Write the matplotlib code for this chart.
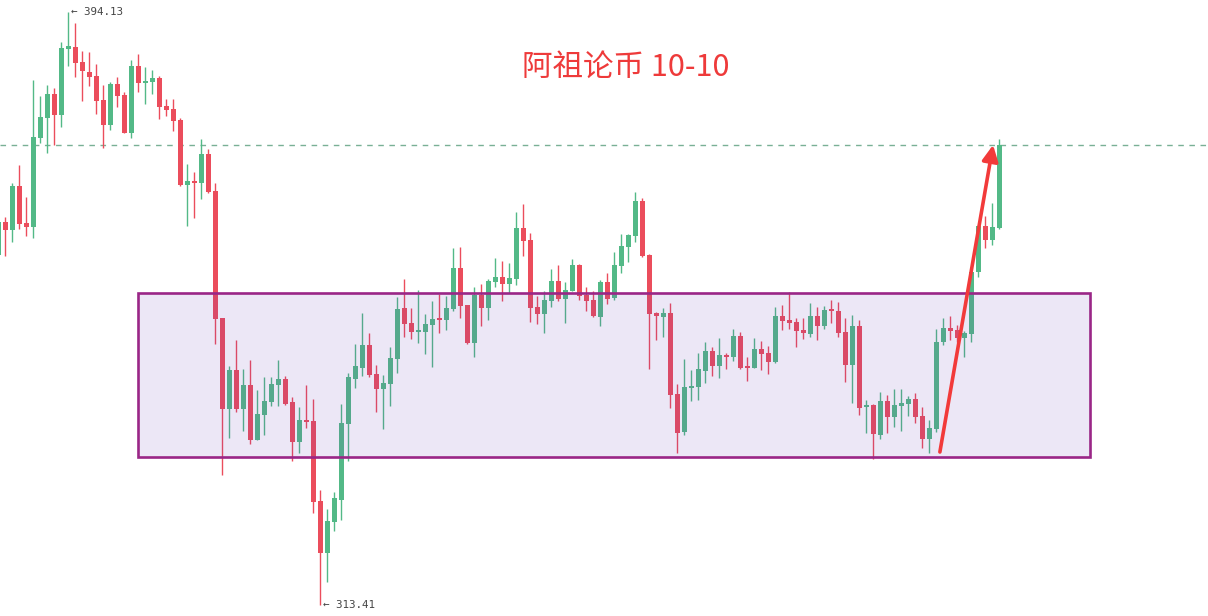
import numpy as np
import matplotlib
matplotlib.use("Agg")
import matplotlib.pyplot as plt
from matplotlib.patches import Rectangle, FancyArrowPatch

# ---- data (price values) ----
idx = list(range(-1, 143))
opens = [361.05, 365.55, 364.46, 370.45, 365.41, 364.86, 376.98, 379.70, 382.97, 380.11,
         389.09, 389.36, 387.32, 385.96, 385.42, 382.15, 378.75, 384.33, 382.83, 377.66,
         386.78, 384.46, 384.60, 385.14, 381.33, 380.92, 379.43, 370.58, 371.13, 370.85,
         374.80, 369.77, 352.48, 340.10, 345.40, 340.10, 343.36, 335.88, 339.28, 341.05,
         343.36, 344.18, 341.05, 335.60, 338.60, 338.46, 327.57, 320.50, 324.72, 327.71,
         338.05, 344.18, 345.67, 348.81, 344.86, 342.82, 343.50, 346.90, 353.84, 351.80,
         350.57, 350.57, 351.53, 352.48, 352.21, 353.71, 359.29, 354.25, 349.08, 355.61,
         353.84, 357.38, 358.06, 357.11, 357.79, 364.73, 363.10, 353.98, 353.02, 354.79,
         357.52, 355.07, 356.15, 359.69, 355.61, 354.93, 352.62, 357.38, 355.20, 359.56,
         362.14, 363.64, 368.40, 361.05, 353.16, 352.62, 353.16, 342.14, 336.97, 342.95,
         343.09, 345.27, 347.99, 345.95, 347.44, 347.17, 350.03, 345.95, 345.67, 348.26,
         347.72, 346.49, 352.75, 352.21, 351.94, 350.85, 350.30, 352.75, 351.39, 353.71,
         353.43, 350.57, 346.08, 351.39, 340.37, 340.64, 336.56, 341.18, 339.01, 340.50,
         340.78, 341.46, 339.14, 336.01, 337.37, 349.21, 351.12, 350.85, 349.76, 350.30,
         358.74, 365.00, 363.10, 364.73]
highs = [365.82, 366.23, 370.85, 373.30, 368.95, 384.87, 382.69, 384.19, 383.78, 390.04,
         394.13, 392.63, 388.82, 388.68, 387.05, 384.19, 384.60, 385.28, 383.24, 387.59,
         388.41, 386.64, 386.23, 385.42, 382.29, 382.29, 379.70, 373.44, 372.35, 376.84,
         375.48, 370.85, 352.48, 345.95, 349.49, 345.54, 346.76, 342.68, 344.45, 344.45,
         346.76, 344.59, 341.73, 340.37, 343.36, 341.46, 329.07, 326.49, 328.80, 340.78,
         344.99, 348.94, 353.16, 350.44, 346.08, 344.72, 348.53, 355.34, 357.79, 353.84,
         356.29, 353.02, 354.79, 355.75, 355.47, 362.01, 362.14, 354.25, 356.70, 357.11,
         357.79, 360.65, 360.24, 359.97, 366.91, 368.00, 364.05, 355.47, 356.15, 359.15,
         359.69, 357.38, 360.51, 359.83, 356.70, 356.15, 357.65, 358.60, 361.46, 363.91,
         363.91, 369.63, 368.81, 361.19, 353.30, 353.84, 354.52, 343.50, 346.90, 345.40,
         347.72, 349.21, 348.53, 349.76, 347.72, 350.98, 350.57, 347.17, 349.76, 349.35,
         348.67, 353.98, 354.25, 356.02, 352.48, 352.48, 354.52, 353.98, 354.11, 354.93,
         354.66, 352.48, 352.89, 352.21, 341.32, 340.78, 342.41, 342.00, 342.82, 342.82,
         341.86, 342.27, 340.37, 338.60, 350.98, 352.48, 352.75, 351.53, 350.71, 358.88,
         365.14, 366.36, 368.13, 376.84]
lows = [359.29, 360.92, 362.82, 364.59, 363.64, 363.37, 376.30, 374.94, 376.03, 378.48,
        386.78, 385.28, 382.01, 384.06, 380.24, 375.62, 378.07, 381.20, 377.66, 376.98,
        383.24, 381.61, 382.97, 379.56, 379.97, 377.93, 370.45, 365.00, 366.09, 368.68,
        369.49, 348.94, 331.11, 336.15, 339.69, 337.10, 335.33, 335.88, 336.56, 340.50,
        340.50, 340.64, 333.02, 334.11, 337.51, 325.94, 313.41, 316.55, 323.49, 324.99,
        333.02, 342.95, 344.59, 344.45, 339.69, 337.37, 340.50, 344.99, 349.89, 349.62,
        349.08, 347.58, 345.81, 350.44, 350.85, 353.43, 352.48, 348.94, 347.17, 351.39,
        352.21, 356.70, 354.79, 355.88, 356.97, 360.92, 351.94, 351.66, 350.44, 353.98,
        354.79, 351.80, 356.15, 354.93, 353.43, 352.62, 351.39, 354.39, 354.93, 358.60,
        360.10, 362.82, 360.78, 345.54, 349.49, 349.89, 340.23, 334.11, 336.56, 341.18,
        341.32, 343.63, 344.59, 344.31, 345.54, 346.63, 345.54, 343.91, 345.67, 345.40,
        344.86, 346.36, 350.85, 350.98, 348.53, 349.62, 349.89, 349.49, 350.98, 351.80,
        349.89, 343.77, 340.91, 339.28, 336.83, 333.29, 336.01, 336.83, 337.65, 337.10,
        339.14, 338.19, 334.79, 334.11, 336.97, 348.81, 349.49, 349.21, 347.17, 349.21,
        358.06, 362.01, 362.42, 364.59]
closes = [365.55, 364.46, 370.45, 365.27, 364.86, 377.11, 379.84, 382.97, 380.11, 389.23,
          389.50, 387.19, 386.10, 385.28, 382.01, 378.75, 384.33, 382.69, 377.66, 386.78,
          384.46, 384.74, 385.14, 381.20, 380.79, 379.29, 370.58, 371.13, 370.85, 374.80,
          369.63, 352.34, 340.10, 345.40, 340.10, 343.36, 335.88, 339.41, 341.18, 343.50,
          344.18, 340.78, 335.60, 338.60, 338.33, 327.44, 320.50, 324.85, 327.98, 338.19,
          344.45, 345.95, 348.81, 344.72, 342.82, 343.63, 347.04, 353.71, 351.66, 350.57,
          350.85, 351.66, 352.34, 352.21, 353.84, 359.29, 354.11, 349.08, 355.61, 353.84,
          357.52, 358.06, 357.11, 357.92, 364.73, 362.96, 353.84, 353.02, 354.93, 357.52,
          355.07, 356.29, 359.69, 355.47, 354.79, 352.75, 357.38, 355.07, 359.69, 362.28,
          363.78, 368.40, 360.92, 353.02, 352.75, 353.16, 342.00, 336.83, 343.09, 343.23,
          345.54, 347.99, 345.95, 347.44, 347.17, 350.03, 345.67, 345.67, 348.26, 347.58,
          346.49, 352.75, 352.07, 351.80, 350.71, 350.44, 352.75, 351.39, 353.57, 353.43,
          350.44, 346.08, 351.39, 340.23, 340.64, 336.69, 341.18, 339.01, 340.64, 340.91,
          341.46, 339.01, 336.01, 337.51, 349.21, 351.12, 350.71, 349.76, 350.44, 358.74,
          365.00, 363.10, 364.86, 376.03]

high_label = "← 394.13"
low_label = "← 313.41"
title_text = "阿祖论币 10-10"

# zone box and arrow (chart drawings)
zone_x0, zone_x1 = 18.95, 154.95
zone_lo, zone_hi = 333.56, 355.88
arrow_start = (133.5, 334.24)
arrow_end = (141.1, 376.03)

UP = "#53b987"
DOWN = "#eb4d5c"

x = np.array(idx, dtype=float)
o = np.array(opens); h = np.array(highs); l = np.array(lows); c = np.array(closes)
up = c >= o
colors = np.where(up, UP, DOWN)

fig = plt.figure(figsize=(12.08, 6.16), dpi=100)
ax = fig.add_axes([0, 0, 1, 1])
ax.set_xlim(-0.762, 171.8)
ax.set_ylim(311.92, 395.76)
ax.axis("off")

# wicks
ax.vlines(x, l, h, colors=colors, linewidth=1.0, zorder=2)
# bodies
body_lo = np.minimum(o, c)
body_h = np.maximum(np.abs(c - o), 0.16)
ax.bar(x, body_h, bottom=body_lo, width=0.72, color=colors, linewidth=0, zorder=2.5)

# last price dashed line
ax.axhline(closes[-1], color="#62a383", linewidth=1.0, alpha=0.85,
           linestyle=(0, (4, 4)), zorder=1)

# zone rectangle
ax.add_patch(Rectangle((zone_x0, zone_lo), zone_x1 - zone_x0, zone_hi - zone_lo,
                       facecolor="#673ab7", alpha=0.12, edgecolor="none", zorder=3))
ax.add_patch(Rectangle((zone_x0, zone_lo), zone_x1 - zone_x0, zone_hi - zone_lo,
                       facecolor="none", edgecolor="#9a2687", linewidth=1.9, zorder=3.1))

# high / low labels
hi_i = int(np.argmax(h)); lo_i = int(np.argmin(l))
ax.annotate(high_label, (x[hi_i], h[hi_i]), xytext=(3, 0), textcoords="offset pixels",
            ha="left", va="center", fontsize=7.8, color="#444444", family="DejaVu Sans Mono")
ax.annotate(low_label, (x[lo_i], l[lo_i]), xytext=(3, 0), textcoords="offset pixels",
            ha="left", va="center", fontsize=7.8, color="#444444", family="DejaVu Sans Mono")

# red arrow
arr = FancyArrowPatch(arrow_start, arrow_end, arrowstyle="-|>,head_length=6,head_width=3.0",
                      color="#f23a3a", linewidth=2.6, mutation_scale=1.6, zorder=5,
                      shrinkA=0, shrinkB=0)
ax.add_patch(arr)

# title
fig.text(0.518, 0.89, title_text, ha="center", va="center", fontsize=22, color="#ee3a3a",
         family=["Noto Sans CJK SC", "DejaVu Sans"])

fig.savefig("out.png", dpi=100)
